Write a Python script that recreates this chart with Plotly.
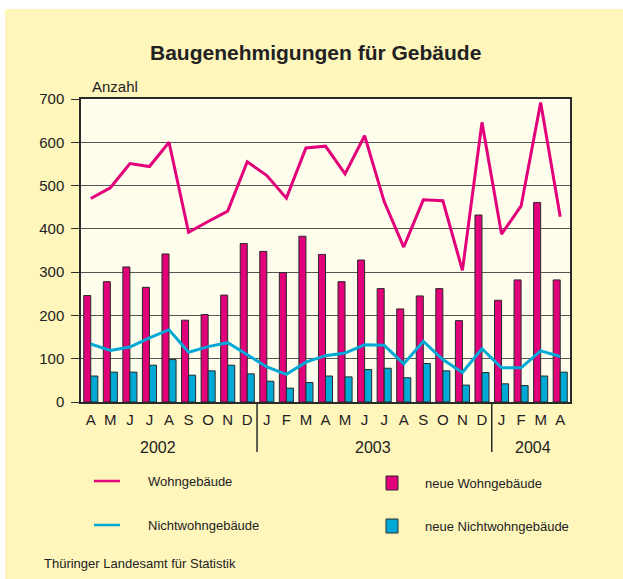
import plotly.graph_objects as go

months = ["A", "M", "J", "J", "A", "S", "O", "N", "D",
          "J", "F", "M", "A", "M", "J", "J", "A", "S", "O", "N", "D",
          "J", "F", "M", "A"]
years = ["2002", "2003", "2004"]
wohn_line = [470, 495, 551, 544, 600, 392, 417, 441, 555, 523, 471, 587, 591,
             527, 615, 463, 358, 467, 465, 304, 646, 388, 453, 692, 428]
nicht_line = [134, 119, 127, 148, 167, 115, 128, 137, 109, 81, 64, 92, 107,
              113, 132, 131, 88, 140, 98, 68, 123, 79, 79, 118, 105]
neue_wohn = [246, 278, 312, 265, 342, 189, 202, 247, 366, 348, 299, 383, 341,
             278, 328, 262, 215, 245, 262, 188, 432, 235, 282, 461, 282]
neue_nicht = [60, 69, 69, 85, 98, 62, 72, 85, 65, 48, 32, 45, 60,
              58, 75, 78, 56, 89, 72, 39, 68, 42, 38, 60, 69]

PINK = "#E2007A"
BLUE = "#00A9D6"
YEL = "#FFF6BC"
PLOTBG = "#FFFDEB"
DARK = "#2a2a2a"

W, H = 623, 579
L, R, T, B = 81, 570, 99, 402
pw, ph = R - L, B - T

def px(x):
    return (x - L) / pw

def py(y):
    return (B - y) / ph

xs = list(range(len(months)))

fig = go.Figure()
fig.add_trace(go.Bar(x=xs, y=neue_wohn, name="neue Wohngebäude",
                     marker=dict(color=PINK, line=dict(color=DARK, width=1))))
fig.add_trace(go.Bar(x=xs, y=neue_nicht, name="neue Nichtwohngebäude",
                     marker=dict(color=BLUE, line=dict(color=DARK, width=1))))
fig.add_trace(go.Scatter(x=xs, y=wohn_line, mode="lines", name="Wohngebäude",
                         line=dict(color=PINK, width=3)))
fig.add_trace(go.Scatter(x=xs, y=nicht_line, mode="lines", name="Nichtwohngebäude",
                         line=dict(color=BLUE, width=3)))

font = "Liberation Sans, Arial, sans-serif"
txt = "#222222"

shapes = []
annotations = []

def note(x, y, text, size, xanchor="left", xref="paper"):
    annotations.append(dict(x=x, y=y, xref=xref, yref="paper", text=text,
                            xanchor=xanchor, yanchor="middle", showarrow=False,
                            font=dict(size=size, color=txt, family=font)))

# white strips (image border)
shapes.append(dict(type="rect", xref="paper", yref="paper", x0=px(-5), x1=px(W + 5),
                   y0=py(9), y1=py(-5), fillcolor="white", line=dict(width=0), layer="above"))
shapes.append(dict(type="rect", xref="paper", yref="paper", x0=px(-5), x1=px(5),
                   y0=py(H + 5), y1=py(-5), fillcolor="white", line=dict(width=0), layer="above"))

# year separators
for xv in [8.5, 20.5]:
    shapes.append(dict(type="line", xref="x", yref="paper", x0=xv, x1=xv,
                       y0=0, y1=py(452), line=dict(color=DARK, width=1.5)))
for label, xv in zip(years, [3.46, 14.43, 22.6]):
    note(xv, py(447), label, 16, xanchor="center", xref="x")

# title and axis label
note(px(315), py(53), "<b>Baugenehmigungen für Gebäude</b>", 21, xanchor="center")
note(px(90), py(86), "Anzahl", 15)

# custom legend
leg = [(PINK, 481, "Wohngebäude"), (BLUE, 525, "Nichtwohngebäude")]
for col, yy, lab in leg:
    shapes.append(dict(type="line", xref="paper", yref="paper", x0=px(94), x1=px(120),
                       y0=py(yy), y1=py(yy), line=dict(color=col, width=2.5)))
    note(px(146), py(yy), lab, 13)
sq = [(PINK, 483, "neue Wohngebäude"), (BLUE, 526, "neue Nichtwohngebäude")]
for col, yy, lab in sq:
    shapes.append(dict(type="rect", xref="paper", yref="paper", x0=px(386), x1=px(398),
                       y0=py(yy + 7), y1=py(yy - 7), fillcolor=col,
                       line=dict(color=DARK, width=1)))
    note(px(423), py(yy), lab, 13)

note(px(42), py(563), "Thüringer Landesamt für Statistik", 13)

fig.update_layout(
    width=W, height=H,
    margin=dict(l=L, r=W - R, t=T, b=H - B, pad=0),
    paper_bgcolor=YEL, plot_bgcolor=PLOTBG,
    barmode="group", bargap=0.28, bargroupgap=0,
    showlegend=False,
    shapes=shapes, annotations=annotations,
    font=dict(family=font, color=txt),
)
fig.update_xaxes(range=[-0.5, len(months) - 0.5], tickvals=xs, ticktext=months,
                 showgrid=False, ticks="", showline=True, linecolor=DARK, linewidth=1.5,
                 mirror=True, tickfont=dict(size=15, color=txt, family=font), ticklabelstandoff=3)
fig.update_yaxes(range=[0, 700], tickvals=[0, 100, 200, 300, 400, 500, 600, 700],
                 showgrid=True, gridcolor="#555555", gridwidth=1, zeroline=False,
                 ticks="outside", ticklen=8, tickcolor=DARK, tickwidth=1,
                 showline=True, linecolor=DARK, linewidth=1.5, mirror=True,
                 tickfont=dict(size=15, color=txt, family=font), ticklabelstandoff=4)

fig.write_html("out.html", config={"displayModeBar": False},
               post_script="document.body.style.margin='0';document.body.style.overflow='hidden';")
